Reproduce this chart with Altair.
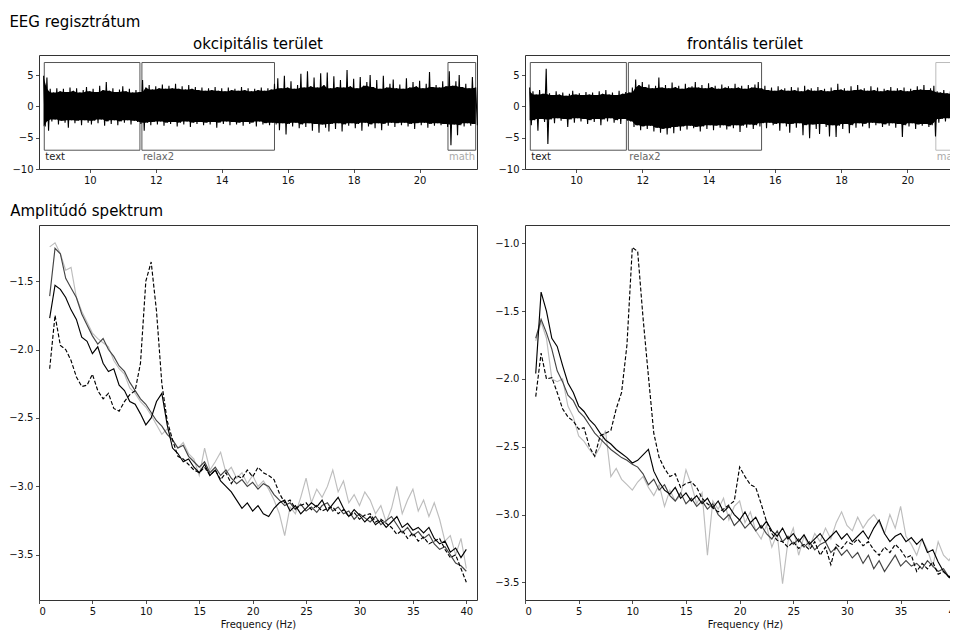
import altair as alt
import pandas as pd

FONT = "DejaVu Sans"

# ---------------- EEG traces (max/min of the signal every 0.1 s) ----------------
EEG_T0 = 8.6
EEG_DT = 0.1

OCC_HI = [
    4.9, 4.6, 2.8, 2.2, 2.9, 2.4, 2.8, 2.3, 3.0, 2.5,
    2.9, 2.2, 2.6, 3.1, 2.4, 2.8, 2.3, 3.3, 2.6, 3.9,
    2.5, 2.9, 2.3, 2.7, 3.2, 2.4, 2.8, 2.2, 2.6, 2.3,
    4.2, 3.0, 3.4, 2.7, 3.2, 2.9, 3.5, 2.8, 3.3, 2.9,
    3.6, 2.8, 3.2, 2.7, 3.4, 2.8, 3.1, 2.6, 3.0, 2.5,
    2.9, 2.6, 3.1, 2.5, 2.9, 2.4, 3.0, 2.6, 2.8, 2.5,
    3.1, 2.6, 2.9, 2.4, 2.8, 2.6, 3.0, 2.5, 2.9, 2.7,
    3.6, 4.5, 2.9, 4.9, 3.0, 4.0, 2.8, 3.4, 5.2, 3.0,
    5.6, 3.2, 4.6, 3.0, 5.3, 3.4, 5.4, 2.9, 4.8, 3.1,
    4.2, 3.0, 5.8, 3.2, 4.4, 2.9, 4.7, 3.3, 3.9, 5.0,
    3.1, 4.2, 2.8, 4.9, 3.0, 3.6, 4.3, 2.9, 3.5, 2.8,
    4.5, 3.0, 3.9, 3.2, 4.1, 2.9, 3.6, 5.5, 3.1, 3.4,
    3.0, 4.0, 3.2, 5.6, 3.3, 4.0, 5.0, 3.1, 3.6, 2.9,
    4.7, 3.0,
]
OCC_LO = [
    -3.2, -3.9, -2.4, -2.1, -2.9, -2.3, -2.6, -3.4, -2.2, -2.7,
    -2.3, -3.0, -2.2, -2.6, -2.9, -2.3, -2.7, -2.1, -3.1, -2.4,
    -2.8, -2.2, -3.0, -2.4, -2.6, -2.2, -2.9, -2.3, -2.5, -2.8,
    -3.9, -2.6, -3.0, -2.5, -2.9, -2.4, -3.1, -2.6, -2.8, -2.5,
    -3.2, -2.6, -2.9, -2.4, -3.3, -2.6, -2.8, -2.5, -3.0, -2.6,
    -2.9, -2.5, -3.4, -2.6, -2.8, -2.4, -3.0, -2.5, -2.9, -2.6,
    -3.1, -2.5, -2.8, -2.6, -3.2, -2.4, -2.9, -2.7, -3.0, -2.6,
    -2.9, -3.8, -2.7, -4.5, -2.8, -3.2, -2.6, -3.5, -2.9, -3.3,
    -2.7, -3.9, -2.8, -4.2, -2.9, -3.4, -4.0, -2.8, -3.6, -2.7,
    -4.0, -2.9, -3.1, -2.7, -3.5, -2.8, -3.9, -2.6, -3.2, -2.9,
    -3.5, -2.7, -3.8, -2.8, -3.1, -2.6, -3.3, -2.7, -3.0, -2.6,
    -3.2, -2.8, -3.6, -2.7, -3.0, -2.6, -3.4, -2.8, -3.1, -2.7,
    -3.0, -2.8, -3.3, -6.2, -2.9, -4.6, -3.0, -3.2, -2.7, -3.1,
    -2.8, -3.0,
]
FRO_HI = [
    3.0, 2.4, 1.9, 2.6, 2.0, 6.0, 2.1, 1.8, 2.4, 1.9,
    2.2, 1.7, 2.0, 2.5, 1.9, 2.1, 1.8, 2.3, 1.9, 2.2,
    1.8, 2.4, 2.0, 2.6, 1.9, 2.2, 1.8, 2.5, 2.0, 2.3,
    2.2, 3.0, 4.3, 3.4, 3.9, 3.1, 3.5, 2.9, 3.3, 4.6,
    3.0, 3.4, 2.9, 3.8, 3.1, 3.3, 2.8, 3.6, 3.0, 3.2,
    3.9, 3.0, 3.4, 2.9, 3.7, 3.1, 3.3, 2.8, 3.5, 3.0,
    3.2, 2.9, 3.6, 3.0, 3.3, 2.8, 3.4, 3.0, 3.5, 3.9,
    2.9, 3.3, 2.6, 3.0, 2.5, 3.2, 2.7, 2.9, 2.5, 3.1,
    2.6, 3.0, 2.4, 3.3, 2.7, 2.9, 2.5, 3.1, 2.6, 2.8,
    2.4, 3.0, 2.6, 3.6, 2.7, 2.9, 2.5, 3.2, 2.6, 3.4,
    2.7, 2.9, 2.5, 3.2, 2.6, 3.0, 2.4, 2.8, 2.6, 3.1,
    2.5, 2.9, 2.6, 3.0, 2.4, 2.8, 2.6, 3.2, 2.7, 3.4,
    2.6, 2.9, 3.3, 2.4, 2.2, 2.6, 2.1, 2.4, 2.0, 2.3,
    2.5, 2.2,
]
FRO_LO = [
    -3.0, -2.2, -3.9, -2.0, -2.5, -6.0, -2.1, -2.7, -1.9, -2.3,
    -2.0, -3.3, -2.1, -2.6, -1.9, -2.4, -2.0, -2.8, -2.2, -2.5,
    -2.0, -3.0, -2.1, -2.4, -1.9, -2.6, -2.2, -2.8, -2.0, -2.3,
    -2.4, -3.3, -3.0, -3.8, -3.2, -3.6, -3.1, -4.0, -3.4, -4.2,
    -3.6, -4.5, -3.5, -4.3, -3.3, -3.9, -3.2, -3.7, -3.1, -3.5,
    -3.3, -4.0, -3.2, -3.6, -3.0, -3.8, -3.1, -3.4, -3.0, -3.7,
    -3.2, -3.5, -3.0, -4.1, -3.1, -3.4, -2.9, -3.6, -3.0, -3.2,
    -2.7, -3.5, -2.6, -3.0, -2.8, -3.9, -2.7, -3.2, -4.2, -2.8,
    -3.4, -2.7, -4.6, -3.0, -5.1, -2.9, -3.6, -4.4, -2.8, -3.3,
    -4.8, -3.0, -4.9, -3.1, -3.6, -2.8, -4.3, -3.0, -3.4, -2.7,
    -3.2, -2.8, -3.5, -2.6, -3.0, -2.7, -3.3, -2.9, -3.1, -2.7,
    -3.4, -2.8, -4.9, -3.0, -3.2, -2.7, -3.6, -2.9, -3.1, -2.8,
    -3.3, -3.0, -4.8, -2.6, -2.0, -2.4, -1.9, -2.5, -2.1, -2.3,
    -2.0, -2.4,
]

# task segments marked with boxes
SEG_NAMES = ["text", "relax2", "math"]
SEG_START = [8.62, 11.58, 20.86]
SEG_END = [11.52, 15.60, 21.70]
BOX_LO = -7.0
BOX_HI = 7.0

# ---------------- Amplitude spectra (log10), 1..40 Hz every 0.5 Hz ----------------
F_START = 1.0
F_STEP = 0.5

L_RELAX1 = [
    -1.77, -1.53, -1.56, -1.62, -1.71, -1.78, -1.91, -1.94, -2.03, -1.98,
    -2.10, -2.16, -2.14, -2.26, -2.30, -2.38, -2.40, -2.47, -2.55, -2.50,
    -2.38, -2.32, -2.55, -2.72, -2.76, -2.82, -2.80, -2.86, -2.90, -2.84,
    -2.92, -2.88, -2.96, -3.00, -3.04, -3.10, -3.16, -3.12, -3.18, -3.14,
    -3.20, -3.22, -3.16, -3.12, -3.10, -3.18, -3.14, -3.20, -3.16, -3.12,
    -3.15, -3.10, -3.18, -3.13, -3.08, -3.16, -3.22, -3.17, -3.21, -3.26,
    -3.22, -3.28, -3.25, -3.30, -3.26, -3.22, -3.30, -3.27, -3.32, -3.30,
    -3.34, -3.30, -3.38, -3.42, -3.40, -3.48, -3.45, -3.52, -3.46,
]
L_TEXT = [
    -1.61, -1.26, -1.30, -1.48, -1.55, -1.62, -1.74, -1.82, -1.90, -1.96,
    -1.92, -2.00, -2.05, -2.12, -2.16, -2.24, -2.30, -2.36, -2.40, -2.46,
    -2.52, -2.56, -2.62, -2.66, -2.72, -2.70, -2.78, -2.82, -2.86, -2.82,
    -2.90, -2.86, -2.92, -2.88, -2.94, -2.98, -2.95, -3.00, -2.97, -3.02,
    -2.98, -3.00, -3.06, -3.10, -3.14, -3.12, -3.17, -3.13, -3.18, -3.15,
    -3.19, -3.14, -3.12, -3.18, -3.15, -3.20, -3.18, -3.24, -3.20, -3.23,
    -3.26, -3.22, -3.28, -3.25, -3.22, -3.28, -3.34, -3.30, -3.36, -3.33,
    -3.38, -3.35, -3.42, -3.46, -3.44, -3.50, -3.56, -3.58, -3.62,
]
L_RELAX2 = [
    -2.14, -1.75, -1.97, -2.00, -2.08, -2.20, -2.27, -2.26, -2.18, -2.30,
    -2.36, -2.32, -2.43, -2.45, -2.38, -2.33, -2.30, -2.10, -1.50, -1.36,
    -1.72, -2.25, -2.52, -2.66, -2.78, -2.80, -2.84, -2.88, -2.90, -2.86,
    -2.92, -2.88, -2.95, -2.90, -2.98, -2.92, -2.94, -2.88, -2.93, -2.86,
    -2.90, -2.92, -2.95, -3.05, -3.12, -3.10, -3.16, -3.14, -3.12, -3.17,
    -3.14, -3.18, -3.16, -3.15, -3.20, -3.17, -3.22, -3.19, -3.24, -3.21,
    -3.20, -3.26, -3.24, -3.27, -3.30, -3.35, -3.32, -3.38, -3.34, -3.40,
    -3.37, -3.42, -3.40, -3.38, -3.46, -3.52, -3.50, -3.60, -3.70,
]
L_MATH = [
    -1.25, -1.22, -1.30, -1.42, -1.40, -1.62, -1.72, -1.80, -1.88, -1.92,
    -1.95, -1.98, -2.08, -2.14, -2.18, -2.28, -2.32, -2.38, -2.42, -2.48,
    -2.55, -2.62, -2.58, -2.66, -2.72, -2.68, -2.76, -2.80, -2.92, -2.72,
    -2.88, -2.82, -2.75, -2.90, -2.86, -2.94, -2.90, -2.98, -2.92, -3.00,
    -2.96, -3.02, -3.10, -3.20, -3.36, -3.15, -3.20, -3.08, -2.94, -3.12,
    -3.02, -3.08, -3.00, -2.88, -3.04, -2.96, -3.12, -3.06, -3.14, -3.04,
    -3.10, -3.20, -3.14, -3.26, -3.16, -3.00, -3.20, -3.10, -3.02, -3.18,
    -3.10, -3.22, -3.12, -3.24, -3.40, -3.36, -3.50, -3.38, -3.60,
]

R_RELAX1 = [
    -1.96, -1.36, -1.50, -1.70, -1.76, -1.90, -2.03, -2.10, -2.20, -2.24,
    -2.30, -2.34, -2.40, -2.45, -2.48, -2.52, -2.55, -2.58, -2.62, -2.60,
    -2.56, -2.52, -2.68, -2.76, -2.82, -2.85, -2.80, -2.88, -2.84, -2.90,
    -2.86, -2.92, -2.88, -2.95, -2.90, -2.98, -2.94, -3.00, -3.04, -2.98,
    -3.06, -3.02, -3.10, -3.05, -3.12, -3.16, -3.10, -3.18, -3.14, -3.20,
    -3.15, -3.22, -3.18, -3.14, -3.20, -3.16, -3.12, -3.18, -3.14, -3.20,
    -3.16, -3.12, -3.18, -3.10, -3.04, -3.14, -3.20, -3.16, -3.14, -3.20,
    -3.17, -3.22, -3.18, -3.28, -3.26, -3.35, -3.42, -3.46, -3.48,
]
R_TEXT = [
    -1.70, -1.56, -1.66, -1.78, -1.94, -2.02, -2.12, -2.16, -2.24, -2.28,
    -2.34, -2.40, -2.44, -2.48, -2.52, -2.55, -2.58, -2.60, -2.63, -2.65,
    -2.70, -2.78, -2.74, -2.82, -2.78, -2.86, -2.90, -2.84, -2.92, -2.88,
    -2.94, -2.90, -2.96, -2.92, -3.00, -3.04, -3.00, -3.08, -3.04, -3.10,
    -3.06, -3.12, -3.08, -3.14, -3.18, -3.12, -3.20, -3.16, -3.22, -3.18,
    -3.24, -3.20, -3.26, -3.22, -3.20, -3.28, -3.24, -3.30, -3.26, -3.32,
    -3.28, -3.36, -3.30, -3.40, -3.34, -3.42, -3.36, -3.30, -3.38, -3.34,
    -3.38, -3.36, -3.40, -3.34, -3.38, -3.42, -3.40, -3.46, -3.50,
]
R_RELAX2 = [
    -2.13, -1.81, -2.00, -1.99, -2.10, -2.22, -2.28, -2.31, -2.37, -2.36,
    -2.50, -2.57, -2.42, -2.40, -2.38, -2.22, -2.10, -1.75, -1.03, -1.06,
    -1.55, -1.98, -2.40, -2.58, -2.66, -2.72, -2.70, -2.80, -2.77, -2.76,
    -2.80, -2.88, -2.92, -2.95, -2.98, -2.96, -2.93, -2.90, -2.65, -2.72,
    -2.78, -2.80, -2.92, -3.05, -3.14, -3.19, -3.20, -3.24, -3.20, -3.25,
    -3.22, -3.26, -3.20, -3.30, -3.24, -3.37, -3.22, -3.25, -3.20, -3.22,
    -3.18, -3.23, -3.20, -3.26, -3.30, -3.24, -3.28, -3.22, -3.26, -3.32,
    -3.30, -3.42, -3.36, -3.40, -3.35, -3.44, -3.42, -3.46, -3.42,
]
R_MATH = [
    -1.72, -1.58, -1.70, -2.00, -2.02, -2.00, -2.20, -2.28, -2.42, -2.46,
    -2.52, -2.57, -2.50, -2.38, -2.72, -2.66, -2.74, -2.78, -2.82, -2.76,
    -2.72, -2.80, -2.86, -2.78, -2.94, -2.82, -2.90, -2.86, -2.67, -2.78,
    -2.92, -2.84, -3.30, -2.90, -2.96, -2.88, -3.04, -2.94, -2.90, -3.06,
    -2.98, -3.12, -3.18, -3.08, -3.24, -3.14, -3.51, -3.20, -3.10, -3.30,
    -3.16, -3.24, -3.14, -3.20, -3.10, -3.18, -3.06, -2.98, -3.08, -3.12,
    -3.02, -3.10, -3.04, -3.00, -3.06, -3.14, -3.00, -3.10, -2.94, -3.16,
    -3.22, -3.30, -3.18, -3.26, -3.38, -3.20, -3.30, -3.34, -3.27,
]

# drawing order (bottom to top) and styles
SERIES = ["math", "text", "relax1", "relax2"]
COLORS = {"math": "#bdbdbd", "text": "#444444", "relax1": "#000000", "relax2": "#000000"}
DASHES = {"relax2": [4, 2]}

LABEL_COLORS = ["#222222", "#666666", "#aaaaaa"]
BOX_COLORS_OCC = ["#555555", "#555555", "#555555"]
BOX_COLORS_FRO = ["#555555", "#555555", "#bbbbbb"]
BOX_DASH = [[1, 0], [3, 2], [1, 0]]

EEG_XDOM = [8.46, 21.74]
EEG_YDOM = [-10, 8.2]


def eeg_panel(hi, lo, box_colors, title, width):
    n = min(len(hi), len(lo))
    # the trace swings between the maximum and the minimum of each 0.1 s window
    ts, vs = [], []
    for i in range(n):
        ts.append(round(EEG_T0 + EEG_DT * i, 3))
        vs.append(hi[i])
        ts.append(round(EEG_T0 + EEG_DT * i + EEG_DT / 2, 3))
        vs.append(lo[i])
    df = pd.DataFrame({"t": ts, "v": vs})
    # solid core of the band: the part every neighbouring window reaches
    core = pd.DataFrame({
        "t": [round(EEG_T0 + EEG_DT * i, 3) for i in range(n)],
        "chi": [min(hi[max(i - 1, 0):i + 2]) for i in range(n)],
        "clo": [max(lo[max(i - 1, 0):i + 2]) for i in range(n)],
    })
    seg = pd.DataFrame({
        "seg": SEG_NAMES,
        "start": SEG_START,
        "end": SEG_END,
        "blo": [BOX_LO] * 3,
        "bhi": [BOX_HI] * 3,
        "bcol": box_colors,
        "lcol": LABEL_COLORS,
    })
    xs = alt.Scale(domain=EEG_XDOM, nice=False, zero=False)
    ys = alt.Scale(domain=EEG_YDOM, nice=False, zero=False)
    xax = alt.Axis(values=[10, 12, 14, 16, 18, 20], format="d", title=None)
    yax = alt.Axis(values=[-10, -5, 0, 5], format="d", title=None)

    boxes = alt.Chart(seg).mark_rect(fillOpacity=0, strokeWidth=1).encode(
        x=alt.X("start:Q", scale=xs, axis=xax),
        x2="end:Q",
        y=alt.Y("blo:Q", scale=ys, axis=yax),
        y2="bhi:Q",
        stroke=alt.Stroke("bcol:N", scale=None),
        strokeDash=alt.StrokeDash("seg:N", scale=alt.Scale(domain=SEG_NAMES, range=BOX_DASH), legend=None),
    )
    band = alt.Chart(core).mark_area(color="#000000", interpolate="linear").encode(
        x=alt.X("t:Q", scale=xs, axis=xax),
        y=alt.Y("chi:Q", scale=ys, axis=yax),
        y2="clo:Q",
    )
    trace = alt.Chart(df).mark_line(
        color="#000000", strokeWidth=1.1, interpolate="linear"
    ).encode(
        x=alt.X("t:Q", scale=xs, axis=xax),
        y=alt.Y("v:Q", scale=ys, axis=yax),
        order="t:Q",
    )
    labels = alt.Chart(seg).mark_text(
        align="left", baseline="top", dx=1, dy=2, fontSize=10, font=FONT
    ).encode(
        x=alt.X("start:Q", scale=xs, axis=xax),
        y=alt.Y("blo:Q", scale=ys, axis=yax),
        text="seg:N",
        color=alt.Color("lcol:N", scale=None),
    )
    return alt.layer(boxes, band, trace, labels).properties(
        width=width, height=114,
        title=alt.Title(title, anchor="middle", offset=3, fontSize=15),
    )


def spec_panel(series_vals, ydom, yticks, width):
    rows = []
    for name, vals in series_vals.items():
        for i, v in enumerate(vals):
            rows.append({"f": round(F_START + F_STEP * i, 2), "v": v, "s": name})
    df = pd.DataFrame(rows)
    xs = alt.Scale(domain=[0, 41], nice=False, zero=False)
    ys = alt.Scale(domain=ydom, nice=False, zero=False)
    xax = alt.Axis(values=[0, 5, 10, 15, 20, 25, 30, 35, 40], format="d",
                   title="Frequency (Hz)")
    yax = alt.Axis(values=yticks, format=".1f", title=None)
    layers = []
    for name in SERIES:
        kw = dict(color=COLORS[name], strokeWidth=1.15)
        if name in DASHES:
            kw["strokeDash"] = DASHES[name]
        layers.append(
            alt.Chart(df).transform_filter(alt.datum.s == name).mark_line(**kw).encode(
                x=alt.X("f:Q", scale=xs, axis=xax),
                y=alt.Y("v:Q", scale=ys, axis=yax),
            )
        )
    return alt.layer(*layers).properties(width=width, height=375)


top_left = eeg_panel(OCC_HI, OCC_LO, BOX_COLORS_OCC, "okcipitális terület", 438)
top_right = eeg_panel(FRO_HI, FRO_LO, BOX_COLORS_FRO, "frontális terület", 440)

bot_left = spec_panel(
    {"relax1": L_RELAX1, "text": L_TEXT, "relax2": L_RELAX2, "math": L_MATH},
    [-3.83, -1.09], [-3.5, -3.0, -2.5, -2.0, -1.5], 438,
)
bot_right = spec_panel(
    {"relax1": R_RELAX1, "text": R_TEXT, "relax2": R_RELAX2, "math": R_MATH},
    [-3.63, -0.865], [-3.5, -3.0, -2.5, -2.0, -1.5, -1.0], 440,
)

row1 = alt.hconcat(
    top_left, top_right, spacing=16,
    title=alt.Title("EEG regisztrátum", anchor="start", offset=7, dx=-2, fontSize=15),
)
row2 = alt.hconcat(
    bot_left, bot_right, spacing=16,
    title=alt.Title("Amplitúdó spektrum", anchor="start", offset=6, dx=2, fontSize=15),
)

# negative right padding crops the figure at the window edge, like the original
chart = alt.vconcat(row1, row2, spacing=17).properties(
    padding={"left": 0, "top": 6, "right": -19, "bottom": 0}
).configure_view(
    stroke="#333333", strokeWidth=1
).configure_axis(
    labelFont=FONT, labelFontSize=10, labelColor="#111111",
    titleFont=FONT, titleFontSize=10, titleFontWeight="normal", titleColor="#111111",
    titlePadding=3,
    tickSize=3.5, tickColor="#222222", tickWidth=0.8,
    labelPadding=2.5, domain=False, grid=False,
).configure_title(
    font=FONT, fontSize=15, fontWeight="normal", color="#000000",
)

chart.save("out.html", embed_options={"renderer": "svg", "actions": False})
